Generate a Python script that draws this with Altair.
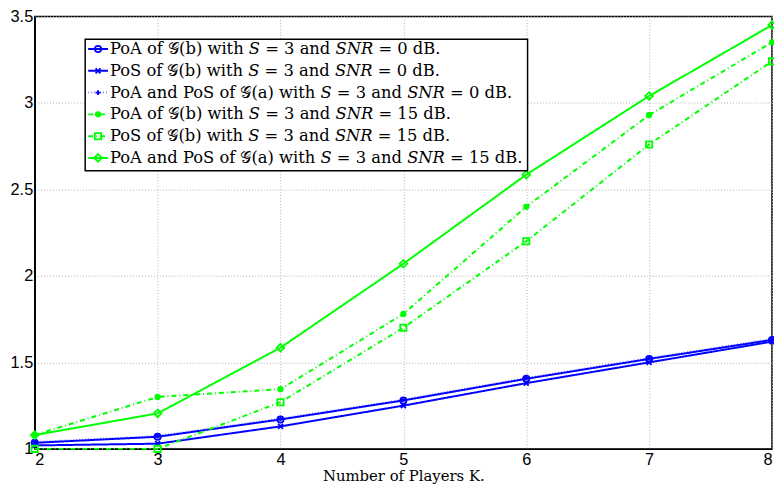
import altair as alt
import pandas as pd

K = [2, 3, 4, 5, 6, 7, 8]
poa_b_0 = [1.035, 1.07, 1.17, 1.28, 1.405, 1.52, 1.63]
pos_b_0 = [1.02, 1.03, 1.13, 1.25, 1.38, 1.50, 1.62]
a_0 = [1.04, 1.075, 1.175, 1.285, 1.41, 1.525, 1.635]
poa_b_15 = [1.08, 1.30, 1.345, 1.78, 2.40, 2.93, 3.35]
pos_b_15 = [1.00, 1.00, 1.27, 1.70, 2.20, 2.76, 3.24]
a_15 = [1.08, 1.205, 1.585, 2.07, 2.585, 3.04, 3.45]

labels = [
    "PoA of 𝒢(b) with 𝑆 = 3 and 𝑆𝑁𝑅 = 0 dB.",
    "PoS of 𝒢(b) with 𝑆 = 3 and 𝑆𝑁𝑅 = 0 dB.",
    "PoA and PoS of 𝒢(a) with 𝑆 = 3 and 𝑆𝑁𝑅 = 0 dB.",
    "PoA of 𝒢(b) with 𝑆 = 3 and 𝑆𝑁𝑅 = 15 dB.",
    "PoS of 𝒢(b) with 𝑆 = 3 and 𝑆𝑁𝑅 = 15 dB.",
    "PoA and PoS of 𝒢(a) with 𝑆 = 3 and 𝑆𝑁𝑅 = 15 dB.",
]
series_values = [poa_b_0, pos_b_0, a_0, poa_b_15, pos_b_15, a_15]

X_SHAPE = "M-1,-1L1,1M-1,1L1,-1"
PLUS_SHAPE = "M-1,0L1,0M0,-1L0,1"
styles = [
    dict(color="#0000ff", dash=[1, 0], width=2, shape="circle", filled=False, size=40, opacity=1),
    dict(color="#0000ff", dash=[1, 0], width=2, shape=X_SHAPE, filled=False, size=25, opacity=1),
    dict(color="#0000ff", dash=[1, 2], width=2, shape=PLUS_SHAPE, filled=False, size=25, opacity=0.45),
    dict(color="#00ff00", dash=[5, 3, 1, 3], width=2, shape="circle", filled=True, size=40, opacity=1),
    dict(color="#00ff00", dash=[5, 3, 1, 3], width=2, shape="square", filled=False, size=40, opacity=1),
    dict(color="#00ff00", dash=[1, 0], width=2, shape="diamond", filled=False, size=60, opacity=1),
]

rows = []
for lab, vals in zip(labels, series_values):
    for k, v in zip(K, vals):
        rows.append({"series": lab, "K": k, "value": v})
df = pd.DataFrame(rows)

xs = alt.Scale(domain=[2, 8], nice=False, zero=False)
ys = alt.Scale(domain=[1, 3.5], nice=False, zero=False)

x_axis = alt.Axis(values=K, title="Number of Players K.", grid=True, gridDash=[1, 2],
                  gridColor="#b0b0b0", labelFontSize=16.5, labelFont="Liberation Sans",
                  labelColor="black", titleFont="DejaVu Serif", titleFontSize=15,
                  titleFontWeight="normal", titleColor="black", titlePadding=0,
                  domainColor="black", domainWidth=1.5, ticks=False, labelPadding=3)
y_axis = alt.Axis(values=[1, 1.5, 2, 2.5, 3, 3.5], format="~g", title=None, grid=True,
                  gridDash=[1, 2], gridColor="#b0b0b0", labelFontSize=16.5,
                  labelFont="Liberation Sans", labelColor="black", domainColor="black",
                  domainWidth=1.5, ticks=False, labelPadding=2)

enc_x = alt.X("K:Q", scale=xs, axis=x_axis)
enc_y = alt.Y("value:Q", scale=ys, axis=y_axis)

layers = []
for lab, st in zip(labels, styles):
    base = alt.Chart(df).transform_filter(alt.datum.series == lab)
    line = base.mark_line(color=st["color"], strokeWidth=st["width"], strokeDash=st["dash"],
                          opacity=st["opacity"]).encode(x=enc_x, y=enc_y)
    pts = base.mark_point(shape=st["shape"], filled=st["filled"], size=st["size"],
                          color=st["color"], strokeWidth=1.8, opacity=1).encode(x=enc_x, y=enc_y)
    layers += [line, pts]

# legend
one = pd.DataFrame({"a": [0]})
box = alt.Chart(one).mark_rect(fill="white", stroke="black", strokeWidth=1.5).encode(
    x=alt.value(51), x2=alt.value(498), y=alt.value(23), y2=alt.value(156))
layers.append(box)
for i, (lab, st) in enumerate(zip(labels, styles)):
    yy = 33 + 22 * i
    ld = pd.DataFrame({"label": [lab]})
    layers.append(alt.Chart(ld).mark_rule(color=st["color"], strokeWidth=st["width"],
                                          strokeDash=st["dash"], opacity=st["opacity"]).encode(
        x=alt.value(54), x2=alt.value(74), y=alt.value(yy)))
    layers.append(alt.Chart(ld).mark_point(shape=st["shape"], filled=st["filled"], size=st["size"],
                                           color=st["color"], strokeWidth=1.8, opacity=1).encode(
        x=alt.value(64), y=alt.value(yy)))
    layers.append(alt.Chart(ld).mark_text(align="left", baseline="middle", font="DejaVu Serif",
                                          fontSize=16.5, color="black").encode(
        x=alt.value(76), y=alt.value(yy), text="label:N"))

chart = alt.layer(*layers).properties(
    width=745, height=437,
    autosize=alt.AutoSizeParams(type="none"),
    padding={"left": 27, "top": 6, "right": 2, "bottom": 33},
).configure(background="white").configure_view(stroke="black", strokeWidth=1.5)

chart.save("out.html", embed_options={"renderer": "svg", "actions": False})
